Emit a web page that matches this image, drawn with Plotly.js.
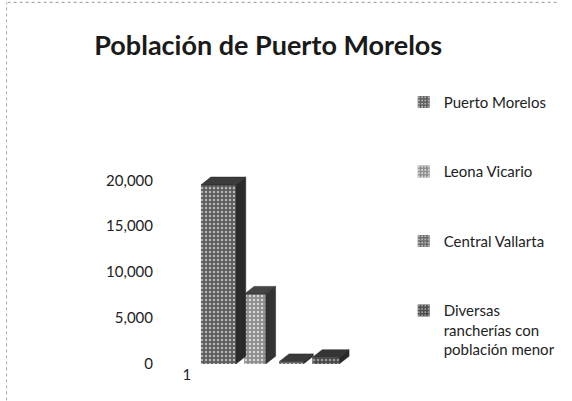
<!DOCTYPE html>
<html>
<head>
<meta charset="utf-8">
<script src="https://cdn.plot.ly/plotly-3.0.1.min.js"></script>
<style>html,body{margin:0;padding:0;background:#fff;}#chart{width:572px;height:401px;}</style>
</head>
<body>
<div id="chart"></div>
<script>
// ---- data ----
const categories = ["1"];
const seriesNames = ["Puerto Morelos", "Leona Vicario", "Central Vallarta", "Diversas<br>rancherías con<br>población menor"];
const puertoMorelos = [19500];
const leonaVicario = [7600];
const centralVallarta = [250];
const diversasRancherias = [700];
const yTickValues = [0, 5000, 10000, 15000, 20000];
const yTickLabels = ["0", "5,000", "10,000", "15,000", "20,000"];

// ---- styles ----
const seriesValues = [puertoMorelos, leonaVicario, centralVallarta, diversasRancherias];
const barOffsets = [0.157, 0.64, 1.03, 1.40];
const barWidths = [0.39, 0.24, 0.27, 0.30];
const frontColors = ["#5c5c5c", "#8c8c8c", "#6a6a6a", "#4a4a4a"];
const dotColors = ["#b8b8b8", "#d8d8d8", "#bdbdbd", "#9a9a9a"];
const sideColors = ["#2a2a2a", "#333333", "#2e2e2e", "#2a2a2a"];
const topColors = ["#3c3c3c", "#444444", "#3a3a3a", "#353535"];
const depthX = 0.11;   // depth in x-axis units
const depthY = 850;    // depth in value units

const traces = [];
seriesValues.forEach((vals, i) => {
  traces.push({
    type: "bar",
    name: seriesNames[i],
    legendgroup: "g" + i,
    x: categories.map((c, k) => k),
    y: vals,
    offset: barOffsets[i],
    width: barWidths[i],
    marker: {
      color: frontColors[i],
      line: {width: 0},
      pattern: {shape: ".", fgcolor: dotColors[i], bgcolor: frontColors[i], size: 4, solidity: 0.3, fillmode: "replace"}
    },
    hoverinfo: "skip"
  });
});
// pseudo-3D faces computed from the same values
seriesValues.forEach((vals, i) => {
  vals.forEach((v, k) => {
    const x0 = k + barOffsets[i];
    const x1 = x0 + barWidths[i];
    traces.push({
      type: "scatter", mode: "lines", showlegend: false, hoverinfo: "skip",
      x: [x1, x1 + depthX, x1 + depthX, x1, x1],
      y: [0, depthY, v + depthY, v, 0],
      fill: "toself", fillcolor: sideColors[i], line: {width: 0.5, color: "#222"}
    });
    traces.push({
      type: "scatter", mode: "lines", showlegend: false, hoverinfo: "skip",
      x: [x0, x1, x1 + depthX, x0 + depthX, x0],
      y: [v, v, v + depthY, v + depthY, v],
      fill: "toself", fillcolor: topColors[i], line: {width: 0.5, color: "#222"}
    });
  });
});

const layout = {
  width: 572, height: 401,
  paper_bgcolor: "#ffffff", plot_bgcolor: "#ffffff",
  margin: {l: 160, r: 182, t: 150, b: 37, pad: 0},
  font: {family: "Lato, 'Open Sans', sans-serif", color: "#222", size: 15},
  title: {
    text: "<b>Población de Puerto Morelos</b>",
    x: 0.469, xanchor: "center", y: 0.886, yanchor: "middle",
    font: {family: "Lato, 'Open Sans', sans-serif", size: 27, color: "#1a1a1a"}
  },
  barmode: "overlay",
  xaxis: {
    type: "linear", range: [-0.3, 2.2],
    tickmode: "array", tickvals: categories.map((c, k) => k), ticktext: categories,
    showgrid: false, zeroline: false, showline: false, ticks: "",
    tickfont: {size: 15, color: "#222"}, fixedrange: true
  },
  yaxis: {
    range: [0, 23300],
    tickmode: "array", tickvals: yTickValues, ticktext: yTickLabels,
    showgrid: false, zeroline: false, showline: false, ticks: "",
    ticklabelstandoff: 6,
    tickfont: {size: 15, color: "#222"}, fixedrange: true
  },
  showlegend: true,
  legend: {
    x: 1.088, xanchor: "left", y: 1.3, yanchor: "top",
    traceorder: "grouped", tracegroupgap: 47, valign: "top",
    font: {size: 15, color: "#222"},
    itemwidth: 30, bgcolor: "rgba(0,0,0,0)",
    maxheight: 400
  },
  shapes: [
    {type: "line", xref: "paper", yref: "paper", x0: -0.68, x1: 1.78, y0: 1.69, y1: 1.69, line: {color: "#999", width: 1, dash: "dot"}},
    {type: "line", xref: "paper", yref: "paper", x0: -0.685, x1: -0.685, y0: -0.17, y1: 1.69, line: {color: "#aaa", width: 1, dash: "dot"}}
  ]
};

Plotly.newPlot("chart", traces, layout, {displayModeBar: false, staticPlot: true});
</script>
</body>
</html>
